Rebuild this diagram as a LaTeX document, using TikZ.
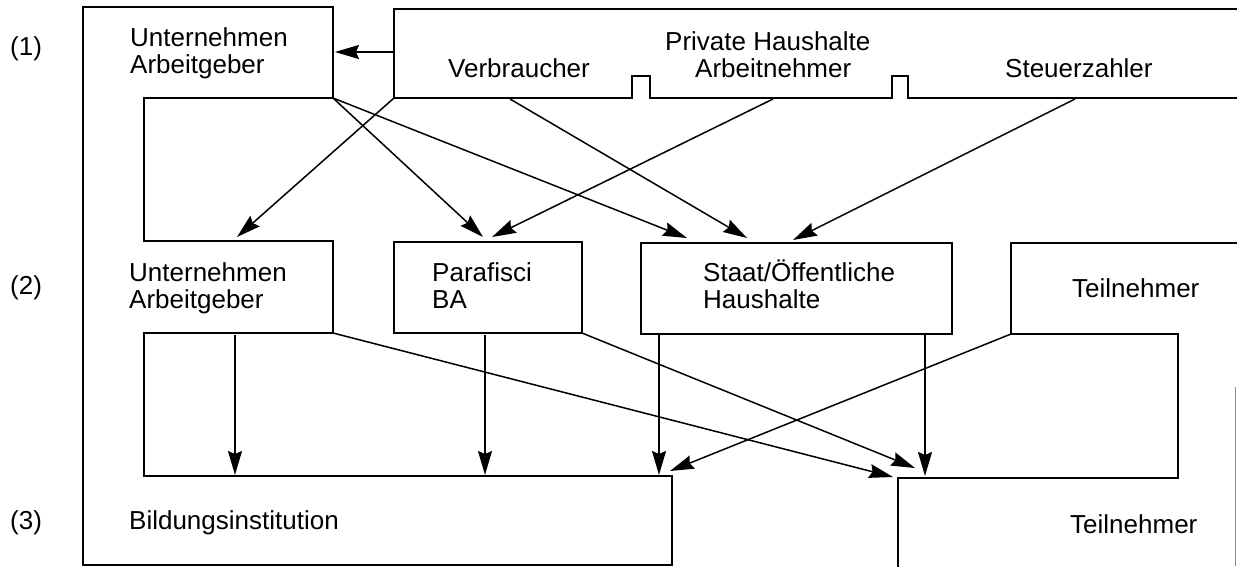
\documentclass[tikz,border=0pt]{standalone}
\usepackage{fontspec}
\setmainfont{Liberation Sans}
\usetikzlibrary{arrows.meta}
\begin{document}
\begin{tikzpicture}[x=1pt,y=-1pt,
  frame/.style={line width=2.8pt, line join=miter, line cap=rect},
  conn/.style={line width=1.5pt, -{Stealth[length=24pt,width=14pt,inset=3pt]}},
  lbl/.style={anchor=base west, inner sep=0pt, align=left, font=\fontsize{26}{27}\selectfont}]
\useasboundingbox (0,0) rectangle (1237,566);
% outlines
\draw[frame] (333,7) -- (83,7) -- (83,565) -- (672,565) -- (672,476) -- (144,476) -- (144,333) -- (333,333) -- (333,241) -- (144,241) -- (144,98) -- (333,98) -- cycle;
\draw[frame] (1237,9) -- (394,9) -- (394,98) -- (632,98) -- (632,76) -- (650,76) -- (650,98) -- (892,98) -- (892,76) -- (908,76) -- (908,98) -- (1237,98);
\draw[frame] (1237,243) -- (1011,243) -- (1011,334) -- (1178,334) -- (1178,478) -- (898,478) -- (898,566);
\draw[frame] (394,242) rectangle (582,333);
\draw[frame] (641,243) rectangle (952,334);
\draw[line width=0.6pt, black!45] (1235.5,387) -- (1235.5,566);
% coordinates
\coordinate (phL) at (394,52); \coordinate (ueR) at (335,52);
\coordinate (phC) at (394,98); \coordinate (ue1C) at (333,98);
\coordinate (verb) at (510,99); \coordinate (arbn) at (773,99); \coordinate (steu) at (1075,99);
\coordinate (ue2T) at (237,237); \coordinate (paT1) at (483,237); \coordinate (paT2) at (492,237);
\coordinate (stT1) at (687,238); \coordinate (stT2) at (747,238); \coordinate (stT3) at (793,240);
\coordinate (ue2B) at (235,335); \coordinate (ue2C) at (333,333);
\coordinate (paB) at (485,335); \coordinate (paC) at (582,333);
\coordinate (stB1) at (659,335); \coordinate (stB2) at (925,335); \coordinate (teC) at (1011,334);
\coordinate (bi1) at (235,475); \coordinate (bi2) at (485,475); \coordinate (bi3) at (659,475);
\coordinate (bi4) at (670,471);
\coordinate (te1) at (893,477); \coordinate (te2) at (915,468); \coordinate (te3) at (925,476);
% connectors
\draw[conn] (phL) -- (ueR);
\draw[conn] (phC) -- (ue2T);
\draw[conn] (ue1C) -- (paT1);
\draw[conn] (ue1C) -- (stT1);
\draw[conn] (verb) -- (stT2);
\draw[conn] (arbn) -- (paT2);
\draw[conn] (steu) -- (stT3);
\draw[conn] (ue2B) -- (bi1);
\draw[conn] (paB) -- (bi2);
\draw[conn] (stB1) -- (bi3);
\draw[conn] (stB2) -- (te3);
\draw[conn] (ue2C) -- (te1);
\draw[conn] (paC) -- (te2);
\draw[conn] (teC) -- (bi4);
% labels
\node[lbl] (n1) at (10,55) {(1)};
\node[lbl] (n2) at (10,294) {(2)};
\node[lbl] (n3) at (10,529) {(3)};
\node[lbl] (ue1) at (130,73) {Unternehmen\\Arbeitgeber};
\node[lbl] (verbt) at (448,77) {Verbraucher};
\node[lbl] (pht) at (665,50) {Private Haushalte};
\node[lbl] (arbt) at (695,77) {Arbeitnehmer};
\node[lbl] (steut) at (1005,77) {Steuerzahler};
\node[lbl] (ue2) at (129,308) {Unternehmen\\Arbeitgeber};
\node[lbl] (pat) at (432,308) {Parafisci\\BA};
\node[lbl] (stt) at (703,308) {Staat/Öffentliche\\Haushalte};
\node[lbl] (te2t) at (1072,297) {Teilnehmer};
\node[lbl] (bit) at (129,529) {Bildungsinstitution};
\node[lbl] (te3t) at (1070,533) {Teilnehmer};
\end{tikzpicture}
\end{document}
